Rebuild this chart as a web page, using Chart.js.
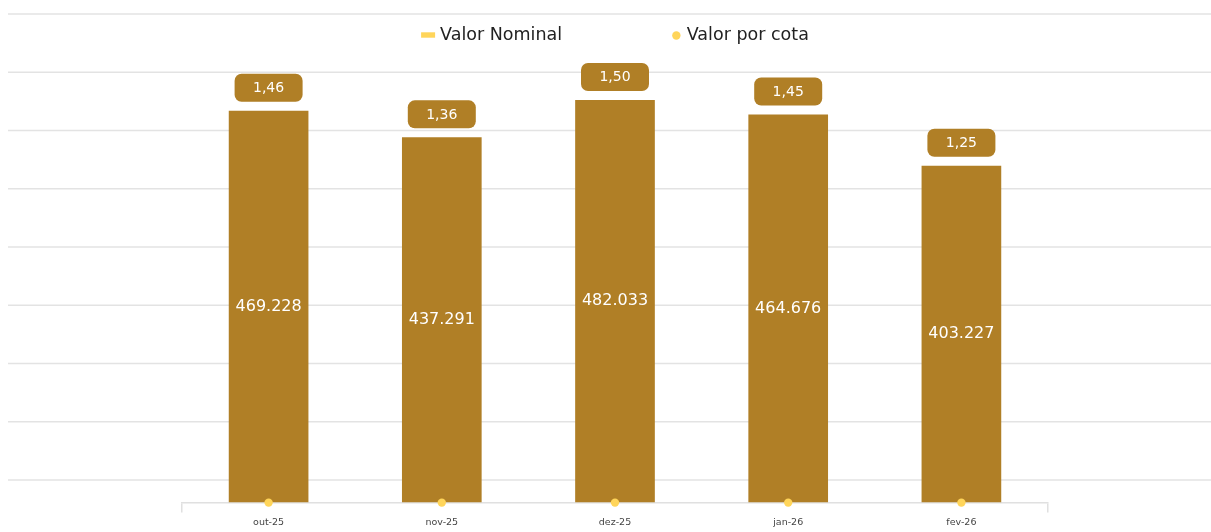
<!DOCTYPE html>
<html>
<head>
<meta charset="utf-8">
<script src="https://cdn.jsdelivr.net/npm/chart.js@4.4.1/dist/chart.umd.min.js"></script>
<style>
  html, body { margin: 0; padding: 0; background: #fff; }
  #wrap { position: relative; width: 1211px; height: 532px; }
</style>
</head>
<body>
<div id="wrap"><canvas id="grafico"></canvas></div>
<script>
const meses = ['out-25', 'nov-25', 'dez-25', 'jan-26', 'fev-26'];
const valorNominal = [469228, 437291, 482033, 464676, 403227];
const valorPorCota = [1.46, 1.36, 1.50, 1.45, 1.25];

const corBarra = '#B07F26';
const corAmarela = '#FFD55A';
const fonte = '"DejaVu Sans", Inter, sans-serif';

const formatarMilhar = v => String(v).replace(/\B(?=(\d{3})+(?!\d))/g, '.');
const formatarCota = v => v.toFixed(2).replace('.', ',');

// linhas de grade que atravessam a largura toda
const gradeLarga = {
    id: 'gradeLarga',
    beforeDatasetsDraw(chart) {
        const escala = chart.scales.grade;
        const ctx = chart.ctx;
        ctx.save();
        ctx.strokeStyle = '#e3e3e3';
        ctx.lineWidth = 1.5;
        escala.ticks.forEach(t => {
            const y = escala.getPixelForValue(t.value);
            ctx.beginPath();
            ctx.moveTo(8, y);
            ctx.lineTo(chart.width, y);
            ctx.stroke();
        });
        ctx.restore();
    }
};

// valor dentro da barra e caixa com o valor por cota em cima
const rotulos = {
    id: 'rotulos',
    afterDatasetsDraw(chart) {
        const ctx = chart.ctx;
        const barras = chart.getDatasetMeta(0).data;
        const nominal = chart.data.datasets[0].data;
        const cota = chart.data.datasets[1].data;
        ctx.save();
        ctx.textAlign = 'center';
        ctx.textBaseline = 'middle';
        barras.forEach((barra, i) => {
            const meio = (barra.y + barra.base) / 2;
            ctx.fillStyle = '#fff';
            ctx.font = `16px ${fonte}`;
            ctx.fillText(formatarMilhar(nominal[i]), barra.x, meio);

            const w = 68, h = 28;
            const topo = barra.y - 9 - h;
            ctx.fillStyle = corBarra;
            ctx.beginPath();
            ctx.roundRect(barra.x - w / 2, topo, w, h, 7);
            ctx.fill();
            ctx.fillStyle = '#fff';
            ctx.font = `14px ${fonte}`;
            ctx.fillText(formatarCota(cota[i]), barra.x, topo + h / 2 + 0.5);
        });
        ctx.restore();
    }
};

// legenda desenhada dentro da area do grafico
const legenda = {
    id: 'legenda',
    afterDraw(chart) {
        const ctx = chart.ctx;
        const area = chart.chartArea;
        ctx.save();
        ctx.font = `17.5px ${fonte}`;
        ctx.textBaseline = 'alphabetic';
        const itens = chart.data.datasets.map(ds => ({
            texto: ds.label,
            ponto: ds.type === 'line',
            marca: ds.type === 'line' ? 14.6 : 19
        }));
        const espaco = 110;
        let total = espaco * (itens.length - 1);
        itens.forEach(it => { total += it.marca + ctx.measureText(it.texto).width; });
        let x = (area.left + area.right) / 2 - total / 2;
        const y = 35;
        itens.forEach(it => {
            ctx.fillStyle = corAmarela;
            if (it.ponto) {
                ctx.beginPath();
                ctx.arc(x + 4.2, y + 0.5, 4.2, 0, Math.PI * 2);
                ctx.fill();
            } else {
                ctx.fillRect(x, y - 2.7, 14, 5.4);
            }
            ctx.fillStyle = '#222';
            ctx.fillText(it.texto, x + it.marca, 40);
            x += it.marca + ctx.measureText(it.texto).width + espaco;
        });
        ctx.restore();
    }
};

new Chart(document.getElementById('grafico'), {
    data: {
        labels: meses,
        datasets: [
            {
                type: 'bar',
                label: 'Valor Nominal',
                data: valorNominal,
                backgroundColor: corBarra,
                barPercentage: 0.46,
                categoryPercentage: 1,
                order: 1,
                yAxisID: 'y'
            },
            {
                type: 'line',
                label: 'Valor por cota',
                data: valorPorCota,
                showLine: false,
                pointRadius: 4.2,
                pointHoverRadius: 4.2,
                pointBackgroundColor: corAmarela,
                pointBorderWidth: 0,
                clip: false,
                order: 0,
                yAxisID: 'y'
            }
        ]
    },
    options: {
        responsive: true,
        maintainAspectRatio: false,
        animation: false,
        layout: { padding: { left: 182, right: 163, top: 14, bottom: 0 } },
        plugins: {
            legend: { display: false },
            tooltip: { enabled: false }
        },
        scales: {
            x: {
                grid: {
                    drawOnChartArea: false,
                    tickLength: 10,
                    lineWidth: 1.5,
                    color: c => (c.index === 0 || c.index === undefined) ? '#e0e0e0' : 'transparent'
                },
                border: { color: '#e0e0e0', width: 1.5 },
                ticks: { color: '#444', padding: 4, font: { family: fonte, size: 9.5 } }
            },
            y: { display: false, min: 0, max: 585000 },
            grade: {
                display: false,
                position: 'left',
                min: -0.387,
                max: 8,
                ticks: { stepSize: 1, includeBounds: false }
            }
        }
    },
    plugins: [gradeLarga, rotulos, legenda]
});
</script>
</body>
</html>
